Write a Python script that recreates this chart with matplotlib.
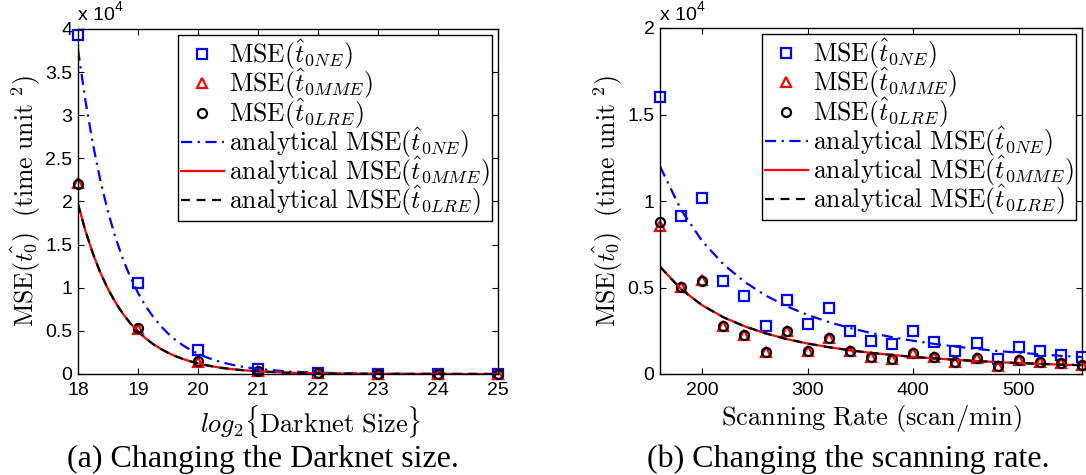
#!/usr/bin/env python3
"""MSE of the infection-start-time estimators vs. darknet size and scanning rate"""

import matplotlib
matplotlib.use('Agg')
import matplotlib.pyplot as plt
from matplotlib.ticker import FuncFormatter

plt.rcParams['mathtext.fontset'] = 'cm'
plt.rcParams['font.family'] = ['Liberation Sans', 'DejaVu Sans']

# ---- (a) darknet size, log2 scale, values in time unit^2 ----
darknet_log2 = [18, 19, 20, 21, 22, 23, 24, 25]
sim_ne_a = [39300, 10600, 2800, 600, 100, 20, 0, 0]
sim_mme_a = [22200, 5200, 1400, 400, 100, 20, 0, 0]
sim_lre_a = [22000, 5300, 1500, 400, 100, 20, 0, 0]

curve_x_a = [18, 18.125, 18.25, 18.375, 18.5, 18.625, 18.75, 18.875,
             19, 19.125, 19.25, 19.375, 19.5, 19.625, 19.75, 19.875,
             20, 20.125, 20.25, 20.375, 20.5, 20.625, 20.75, 20.875,
             21, 21.5, 22, 22.5, 23, 23.5, 24, 24.5, 25]
theory_ne_a = [37600, 31620, 26590, 22360, 18800, 15810, 13290, 11180,
               9400, 7900, 6650, 5590, 4700, 3950, 3320, 2800,
               2350, 1980, 1660, 1400, 1180, 990, 830, 700,
               590, 290, 150, 73, 37, 18, 9, 5, 2]
theory_mme_a = [19700, 16570, 13930, 11710, 9850, 8280, 6970, 5860,
                4930, 4140, 3480, 2930, 2460, 2070, 1740, 1460,
                1230, 1040, 870, 730, 620, 520, 440, 370,
                310, 150, 77, 38, 19, 10, 5, 2, 1]
theory_lre_a = theory_mme_a

# ---- (b) scanning rate (scan/min) ----
scan_rate = [160, 180, 200, 220, 240, 260, 280, 300, 320, 340, 360,
             380, 400, 420, 440, 460, 480, 500, 520, 540, 560]
sim_ne_b = [16030, 9130, 10170, 5380, 4530, 2790, 4300, 2870, 3800, 2470, 1890,
            1710, 2470, 1830, 1330, 1790, 890, 1560, 1310, 1120, 980]
sim_mme_b = [8570, 5010, 5450, 2770, 2240, 1270, 2490, 1310, 2080, 1310, 960,
             870, 1190, 960, 670, 920, 460, 790, 670, 620, 500]
sim_lre_b = [8770, 5010, 5380, 2770, 2240, 1270, 2490, 1310, 2080, 1310, 960,
             870, 1190, 960, 670, 920, 460, 790, 670, 620, 500]
theory_ne_b = [12000, 9480, 7680, 6350, 5330, 4540, 3920, 3410, 3000, 2660, 2370,
               2130, 1920, 1740, 1590, 1450, 1330, 1230, 1140, 1050, 980]
theory_mme_b = [6200, 4900, 3970, 3280, 2760, 2350, 2020, 1760, 1550, 1370, 1220,
                1100, 990, 900, 820, 750, 690, 630, 590, 540, 510]
theory_lre_b = theory_mme_b

labels = [r'$\mathrm{MSE}(\hat{t}_{0NE})$',
          r'$\mathrm{MSE}(\hat{t}_{0MME})$',
          r'$\mathrm{MSE}(\hat{t}_{0LRE})$',
          r'$\mathrm{analytical\ MSE}(\hat{t}_{0NE})$',
          r'$\mathrm{analytical\ MSE}(\hat{t}_{0MME})$',
          r'$\mathrm{analytical\ MSE}(\hat{t}_{0LRE})$']

W, H = 1086, 475
fig = plt.figure(figsize=(W / 100, H / 100), dpi=100)
fig.patch.set_facecolor('white')


def px_axes(x0, x1, top, bottom):
    return fig.add_axes([x0 / W, (H - bottom) / H, (x1 - x0) / W, (bottom - top) / H])


def draw_panel(ax, x, ne, mme, lre, cx, tne, tmme, tlre):
    mk = dict(linestyle='none', markersize=6.5, markeredgewidth=1.6,
              markerfacecolor='none', clip_on=False)
    ax.plot(x, ne, marker='s', color='blue', label=labels[0], **mk)
    ax.plot(x, mme, marker='^', color='red', label=labels[1], **mk)
    ax.plot(x, lre, marker='o', color='black', label=labels[2], **mk)
    ax.plot(cx, tne, color='blue', linewidth=1.6,
            linestyle=(0, (5, 2.5, 1, 2.5)), label=labels[3])
    ax.plot(cx, tmme, color='red', linewidth=1.6, label=labels[4])
    ax.plot(cx, tlre, color='black', linewidth=1.6,
            linestyle=(0, (4, 3)), label=labels[5])

    ax.yaxis.set_major_formatter(FuncFormatter(lambda v, p: f'{v / 1e4:g}'))
    ax.tick_params(direction='in', length=4, width=0.8, labelsize=14,
                   top=True, right=True)
    ax.tick_params(axis='x', pad=6)
    ax.tick_params(axis='y', pad=4)
    for s in ax.spines.values():
        s.set_linewidth(1.0)
        s.set_edgecolor('black')

    leg = ax.legend(loc='upper right', fontsize=18.5, numpoints=1,
                    handlelength=1.65, handletextpad=0.2, labelspacing=-0.2,
                    borderaxespad=0.22, borderpad=0.12, fancybox=False,
                    framealpha=1, edgecolor='black')
    leg.get_frame().set_linewidth(1.0)
    ax.set_ylabel(r'$\mathrm{MSE}(\hat{t_0})\ \ (\mathrm{time\ unit\ }^2)$',
                  fontsize=18.5, labelpad=2)


# panel (a)
ax1 = px_axes(78, 498, 29, 374)
draw_panel(ax1, darknet_log2, sim_ne_a, sim_mme_a, sim_lre_a,
           curve_x_a, theory_ne_a, theory_mme_a, theory_lre_a)
ax1.set_xlim(18, 25)
ax1.set_ylim(0, 40000)
ax1.set_xticks(darknet_log2)
ax1.set_yticks([0, 5000, 10000, 15000, 20000, 25000, 30000, 35000, 40000])
ax1.set_xlabel(r'$log_2\{\mathrm{Darknet\ Size}\}$', fontsize=19, labelpad=0)
ax1.xaxis.set_label_coords(0.555, -0.085)

# panel (b)
ax2 = px_axes(660, 1082, 28, 374)
draw_panel(ax2, scan_rate, sim_ne_b, sim_mme_b, sim_lre_b,
           scan_rate, theory_ne_b, theory_mme_b, theory_lre_b)
ax2.set_xlim(160, 560)
ax2.set_ylim(0, 20000)
ax2.set_xticks([200, 300, 400, 500])
ax2.set_yticks([0, 5000, 10000, 15000, 20000])
ax2.set_xlabel(r'$\mathrm{Scanning\ Rate\ (scan/min)}$', fontsize=19, labelpad=0)
ax2.xaxis.set_label_coords(0.5, -0.085)

# exponent labels above each y axis
for x0 in (78, 660):
    fig.text(x0 / W, 1 - 16 / H, 'x 10', fontsize=14, ha='left', va='center')
    fig.text((x0 + 37) / W, 1 - 7 / H, '4', fontsize=10, ha='left', va='center')

# sub-captions
fig.text(263 / W, 1 - 459 / H, '(a) Changing the Darknet size.',
         family='Liberation Serif', fontsize=23, ha='center', va='center')
fig.text(848 / W, 1 - 459 / H, '(b) Changing the scanning rate.',
         family='Liberation Serif', fontsize=23, ha='center', va='center')

fig.savefig('out.png', dpi=100, facecolor='white')
